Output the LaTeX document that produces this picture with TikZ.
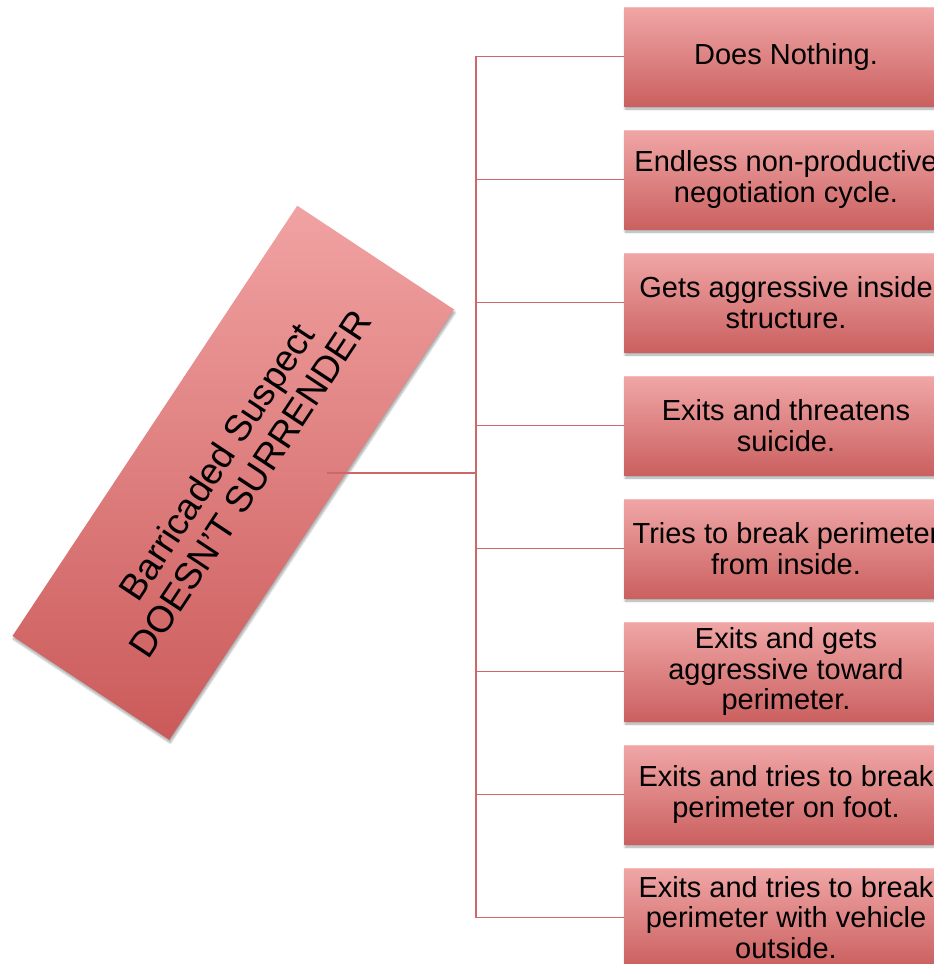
\documentclass[tikz,border=0pt]{standalone}
\usepackage{fontspec}
\setmainfont{Liberation Sans}
\usetikzlibrary{shadows.blur,calc}

\definecolor{boxtop}{RGB}{240,166,166}
\definecolor{boxbot}{RGB}{203,96,96}
\definecolor{boxrim}{RGB}{250,186,186}
\definecolor{roottop}{RGB}{241,162,162}
\definecolor{rootbot}{RGB}{203,90,90}
\definecolor{wirecol}{RGB}{206,104,104}

\tikzset{
  softshadow/.style={blur shadow={shadow xshift=1pt, shadow yshift=-3pt,
      shadow blur steps=6, shadow opacity=35}},
  outcome/.style={rectangle, minimum width=324pt, minimum height=99pt,
    inner sep=0pt, top color=boxtop, bottom color=boxbot, align=center,
    font=\fontsize{29}{30.5}\selectfont, softshadow,
    path picture={\draw[boxrim, line width=2.5pt]
      (path picture bounding box.north west) --
      (path picture bounding box.north east);}},
  rootbox/.style={rectangle, minimum width=516pt, minimum height=188pt,
    inner sep=0pt, align=center, font=\fontsize{37}{40}\selectfont},
  wire/.style={draw=wirecol, line width=1.6pt},
}

\begin{document}
\begin{tikzpicture}[x=1pt,y=-1pt]
\useasboundingbox (0,0) rectangle (934,964);
\clip (0,0) rectangle (934,964);

% tilted root box: outline along u (long side) and v (short side),
% shaded top to bottom of the page
\coordinate (rootc) at (233.25,472.75);
\coordinate (u) at (-56.5:258);
\coordinate (v) at (-146.5:94);
\shade[top color=roottop, bottom color=rootbot, softshadow]
  ($(rootc)+(u)+(v)$) -- ($(rootc)-(u)+(v)$) --
  ($(rootc)-(u)-(v)$) -- ($(rootc)+(u)-(v)$) -- cycle;
\node[rootbox, rotate=56.5] (root) at (rootc)
  {Barricaded Suspect\\DOESN’T SURRENDER};

% outcome boxes
\node[outcome] (b1) at (786,56.5)  {Does Nothing.};
\node[outcome] (b2) at (786,179.5) {Endless non-productive\\negotiation cycle.};
\node[outcome] (b3) at (786,302.5) {Gets aggressive inside\\structure.};
\node[outcome] (b4) at (786,425.5) {Exits and threatens\\suicide.};
\node[outcome] (b5) at (786,548.5) {Tries to break perimeter\\from inside.};
\node[outcome] (b6) at (786,671.5) {Exits and gets\\aggressive toward\\perimeter.};
\node[outcome] (b7) at (786,794.5) {Exits and tries to break\\perimeter on foot.};
\node[outcome] (b8) at (786,917.5) {Exits and tries to break\\perimeter with vehicle\\outside.};

% connectors
\coordinate (rootout) at ($(root.center)+(94,0)$);
\coordinate (hub) at ($(rootout)+(149,0)$);
\draw[wire] (rootout) -- (hub);
\foreach \i in {1,...,8}
  \draw[wire] (hub) |- (b\i.west);
\end{tikzpicture}
\end{document}
